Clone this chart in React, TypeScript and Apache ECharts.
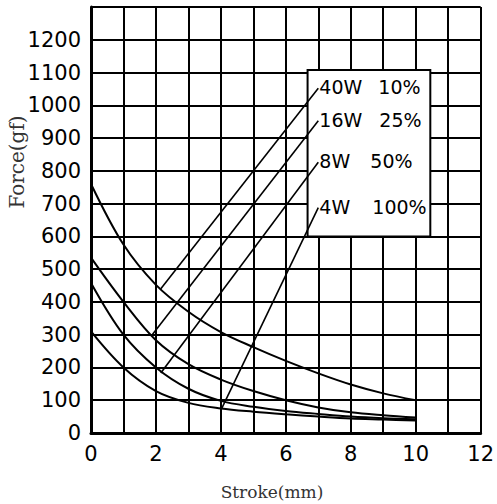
import React, { useEffect, useRef } from 'react';
import * as echarts from 'echarts';

// Stroke positions (mm) where the force curves were read
const strokeMm = [0, 1, 2, 3, 4, 5, 6, 7, 8, 9, 10];
// Force (gf) for each duty setting
const force40W = [760, 575, 452, 370, 308, 262, 220, 182, 148, 121, 100];
const force16W = [535, 400, 283, 210, 163, 128, 100, 78, 63, 54, 47];
const force8W = [458, 300, 200, 135, 98, 80, 67, 58, 50, 45, 42];
const force4W = [310, 200, 128, 92, 75, 65, 57, 50, 44, 41, 38];

// Legend labels (power, duty)
const legendPower = ['40W', '16W', '8W', '4W'];
const legendDuty = ['10%', '25%', '50%', '100%'];
// Leader lines: point on curve -> label anchor (data coords)
const leaderFrom = [[2.15, 440], [1.85, 295], [2.15, 183], [4.03, 76]];
const leaderTo = [[7.0, 1052], [7.0, 953], [7.0, 826], [7.0, 688]];
// Legend box corners (data coords)
const legendBox = [[6.67, 1108], [10.45, 600]];

const xTickLabels = [0, 2, 4, 6, 8, 10, 12];
const yTickLabels = [0, 100, 200, 300, 400, 500, 600, 700, 800, 900, 1000, 1100, 1200];

const curves = [force40W, force16W, force8W, force4W];
const firstColWidth = [59, 60, 51, 53];

export default function App() {
  const ref = useRef<HTMLDivElement>(null);
  useEffect(() => {
    document.body.style.margin = '0';
    document.body.style.overflow = 'hidden';
    const chart = echarts.init(ref.current!, null, { renderer: 'svg' });
    const tickFont = { color: '#000', fontSize: 21, fontFamily: 'DejaVu Sans' };

    const curveSeries = curves.map((vals) => ({
      type: 'line',
      data: strokeMm.map((x, i) => [x, vals[i]]),
      smooth: 0.35,
      symbol: 'none',
      showSymbol: false,
      lineStyle: { color: '#000', width: 2 },
      z: 3,
    }));

    const leaderSeries = leaderFrom.map((from, i) => ({
      type: 'line',
      data: [from, leaderTo[i]],
      symbol: 'none',
      showSymbol: false,
      lineStyle: { color: '#000', width: 1.6 },
      z: 4,
      endLabel: {
        show: true,
        distance: 1,
        offset: [0, -1],
        formatter: `{a|${legendPower[i]}}{b|${legendDuty[i]}}`,
        rich: {
          a: { width: firstColWidth[i], fontSize: 19, fontFamily: 'DejaVu Sans', color: '#000' },
          b: { fontSize: 19, fontFamily: 'DejaVu Sans', color: '#000' },
        },
      },
    }));

    const boxSeries = {
      type: 'line',
      data: legendBox,
      symbol: 'none',
      showSymbol: false,
      lineStyle: { width: 0, opacity: 0 },
      z: 1,
      markArea: {
        silent: true,
        itemStyle: { color: '#fff', borderColor: '#000', borderWidth: 2 },
        data: [[{ coord: legendBox[0] }, { coord: legendBox[1] }]],
      },
    };

    chart.setOption({
      animation: false,
      grid: { left: 91, right: 12, top: 7, bottom: 71, containLabel: false },
      xAxis: {
        type: 'value',
        min: 0,
        max: 12,
        interval: 1,
        axisLine: { show: true, lineStyle: { color: '#000', width: 3 } },
        axisTick: { show: false },
        splitLine: { show: true, lineStyle: { color: '#000', width: 2 } },
        axisLabel: {
          ...tickFont,
          margin: 10,
          formatter: (v: number) => (xTickLabels.includes(v) ? String(v) : ''),
        },
      },
      yAxis: {
        type: 'value',
        min: 0,
        max: 1300,
        interval: 100,
        axisLine: { show: true, lineStyle: { color: '#000', width: 3 } },
        axisTick: { show: false },
        splitLine: { show: true, lineStyle: { color: '#000', width: 2 } },
        axisLabel: {
          ...tickFont,
          margin: 10,
          formatter: (v: number) => (yTickLabels.includes(v) ? String(v) : ''),
        },
      },
      graphic: [
        {
          type: 'text',
          x: 17,
          y: 162,
          rotation: Math.PI / 2,
          style: {
            text: 'Force(gf)',
            fontSize: 20,
            fontFamily: 'DejaVu Serif',
            fill: '#333',
            align: 'center',
            verticalAlign: 'middle',
          },
        },
        {
          type: 'text',
          x: 272,
          y: 492,
          style: {
            text: 'Stroke(mm)',
            fontSize: 17,
            fontFamily: 'DejaVu Serif',
            fill: '#333',
            align: 'center',
            verticalAlign: 'middle',
          },
        },
      ],
      series: [boxSeries, ...curveSeries, ...leaderSeries],
    });
    return () => chart.dispose();
  }, []);
  return <div ref={ref} style={{ width: 497, height: 504 }} />;
}
